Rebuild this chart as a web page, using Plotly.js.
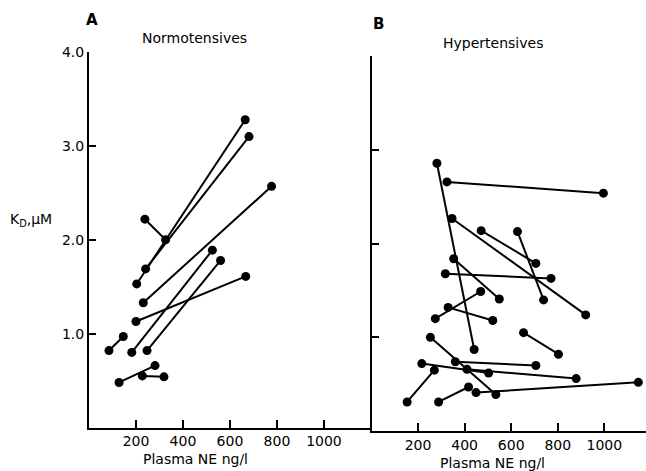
<!DOCTYPE html>
<html>
<head>
<meta charset="utf-8">
<script src="https://cdn.plot.ly/plotly-3.0.1.min.js"></script>
<style>html,body{margin:0;padding:0;background:#fff;} #chart{width:646px;height:471px;}</style>
</head>
<body>
<div id="chart"></div>
<script>
// Panel A: Normotensives (first point, second point of each subject)
var normX1 = [238, 203, 241, 231, 200, 182, 247, 85, 128, 227];
var normY1 = [2.22, 1.53, 1.69, 1.33, 1.13, 0.80, 0.82, 0.82, 0.48, 0.55];
var normX2 = [326, 665, 681, 777, 667, 525, 560, 146, 281, 319];
var normY2 = [2.00, 3.28, 3.10, 2.57, 1.61, 1.89, 1.78, 0.97, 0.66, 0.54];

// Panel B: Hypertensives
var hypX1 = [281, 324, 346, 471, 627, 353, 317, 274, 329, 253, 653, 360, 216, 410, 270, 288, 449];
var hypY1 = [2.86, 2.66, 2.27, 2.14, 2.13, 1.84, 1.68, 1.20, 1.32, 1.00, 1.05, 0.74, 0.72, 0.66, 0.65, 0.31, 0.41];
var hypX2 = [441, 996, 920, 706, 739, 549, 771, 469, 521, 534, 803, 706, 503, 879, 153, 417, 1146];
var hypY2 = [0.87, 2.54, 1.24, 1.79, 1.40, 1.41, 1.63, 1.49, 1.18, 0.39, 0.82, 0.70, 0.62, 0.56, 0.31, 0.47, 0.52];

var xTickVals = [200, 400, 600, 800, 1000];
var yTickVals = [1, 2, 3, 4];
var yTickText = ['1.0', '2.0', '3.0', '4.0'];

function pairs(x1, y1, x2, y2) {
  var xs = [], ys = [];
  for (var i = 0; i < x1.length; i++) {
    xs.push(x1[i], x2[i], null);
    ys.push(y1[i], y2[i], null);
  }
  return {x: xs, y: ys};
}

var a = pairs(normX1, normY1, normX2, normY2);
var b = pairs(hypX1, hypY1, hypX2, hypY2);

var mk = {color: '#000', size: 9};
var ln = {color: '#000', width: 2};

var traces = [
  {x: a.x, y: a.y, xaxis: 'x', yaxis: 'y', mode: 'lines+markers', marker: mk, line: ln, connectgaps: false, hoverinfo: 'x+y', showlegend: false},
  {x: b.x, y: b.y, xaxis: 'x2', yaxis: 'y2', mode: 'lines+markers', marker: mk, line: ln, connectgaps: false, hoverinfo: 'x+y', showlegend: false}
];

var W = 646, H = 471;
function px(v) { return v / W; }
function py(v) { return 1 - v / H; }

var FAM = 'DejaVu Sans, Liberation Sans, Arial, sans-serif';
var tickFont = {family: FAM, size: 14, color: '#000'};
var baseX = {
  showline: true, linecolor: '#000', linewidth: 2, showgrid: false, zeroline: false,
  ticks: 'inside', ticklen: 8, tickwidth: 2, tickcolor: '#000',
  tickvals: xTickVals, ticktext: xTickVals.map(String), tickfont: tickFont,
  automargin: false, fixedrange: true
};
var baseY = {
  showline: true, linecolor: '#000', linewidth: 2, showgrid: false, zeroline: false,
  ticks: 'inside', ticklen: 7, tickwidth: 2, tickcolor: '#000',
  tickvals: yTickVals, ticktext: yTickText, tickfont: tickFont,
  automargin: false, fixedrange: true
};

function ann(text, x, y, size, ya) {
  return {text: text, x: px(x), y: py(y), xref: 'paper', yref: 'paper', xanchor: 'center', yanchor: ya || 'middle',
          showarrow: false, font: {family: FAM, size: size, color: '#000'}};
}

var layout = {
  width: W, height: H,
  margin: {l: 0, r: 0, t: 0, b: 0},
  paper_bgcolor: '#fff', plot_bgcolor: 'rgba(0,0,0,0)',
  showlegend: false,
  xaxis: Object.assign({}, baseX, {domain: [px(89), px(370)], range: [0, 1196], anchor: 'y'}),
  yaxis: Object.assign({}, baseY, {domain: [py(427.5), py(51.7)], range: [0, 4.005], anchor: 'x'}),
  xaxis2: Object.assign({}, baseX, {domain: [px(371.5), 1], range: [0, 1179], anchor: 'y2'}),
  yaxis2: Object.assign({}, baseY, {domain: [py(431), py(56)], range: [0, 4.005], anchor: 'x2', showticklabels: false}),
  annotations: [
    ann('<b>A</b>', 92, 20, 15),
    ann('Normotensives', 194, 38, 14),
    ann('<b>B</b>', 378, 24, 15),
    ann('Hypertensives', 493, 43, 14),
    ann('K<sub>D</sub>,µM', 31, 220, 14),
    ann('Plasma NE ng/l', 195, 449, 14, 'top'),
    ann('Plasma NE ng/l', 492, 453, 14, 'top')
  ]
};

Plotly.newPlot('chart', traces, layout, {displayModeBar: false, staticPlot: true});
</script>
</body>
</html>
